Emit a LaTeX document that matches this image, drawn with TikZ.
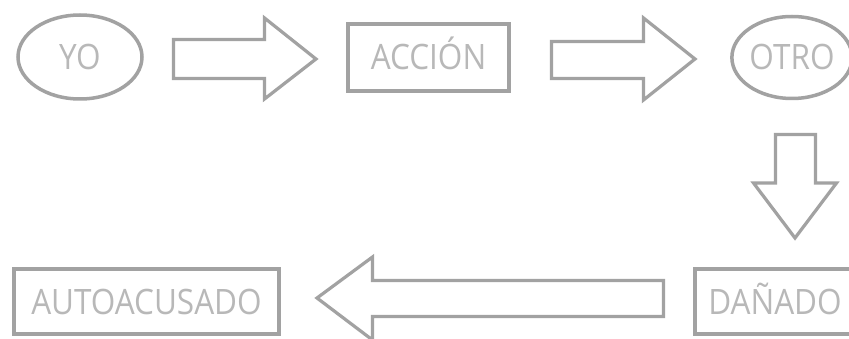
\documentclass[tikz,border=0pt]{standalone}
\usepackage{fontspec}
\setmainfont{Open Sans}[FakeStretch=0.9]
\usetikzlibrary{shapes.geometric}
\definecolor{edgegray}{HTML}{A2A2A2}
\definecolor{labelgray}{HTML}{B8B8B8}
\tikzset{
  x=1pt, y=-1pt,
  label text/.style={text=labelgray, font=\fontsize{35}{35}\selectfont, inner sep=0pt,
    text height=25pt, text depth=0pt},
  ovalnode/.style={label text, ellipse, draw=edgegray, line width=3.5pt},
  boxnode/.style={label text, rectangle, draw=edgegray, line width=3.5pt},
  blockarrow/.style={draw=edgegray, line width=3.2pt, line join=miter, fill=white},
}
\begin{document}
\begin{tikzpicture}
\useasboundingbox[fill=white] (0,0) rectangle (849,339);

% states
\node[ovalnode, minimum width=124pt, minimum height=84pt] (yo) at (80,57) {YO};
\node[boxnode, minimum width=161pt, minimum height=67pt] (accion) at (428.5,57.5) {ACCIÓN};
\node[ovalnode, minimum width=117pt, minimum height=82pt] (otro) at (792,57.5) {OTRO};
\node[boxnode, minimum width=160pt, minimum height=65pt] (danado) at (775,301.5) {DAÑADO};
\node[boxnode, minimum width=265pt, minimum height=65pt] (autoacusado) at (146.5,301.5) {AUTOACUSADO};

% block arrows between the states
\draw[blockarrow] (173.5,39.5) -- (264.5,39.5) -- (264.5,18) -- (316,59)
  -- (264.5,99) -- (264.5,78.5) -- (173.5,78.5) -- cycle;
\draw[blockarrow] (551.5,41.5) -- (643.5,41.5) -- (643.5,18) -- (695,59)
  -- (643.5,100) -- (643.5,78.5) -- (551.5,78.5) -- cycle;
\draw[blockarrow] (775.5,134.5) -- (815.5,134.5) -- (815.5,183) -- (836.5,183)
  -- (795,238) -- (753.5,183) -- (775.5,183) -- cycle;
\draw[blockarrow] (663.5,280.5) -- (372.5,280.5) -- (372.5,257) -- (317,298)
  -- (372.5,340) -- (372.5,316.5) -- (663.5,316.5) -- cycle;
\end{tikzpicture}
\end{document}
